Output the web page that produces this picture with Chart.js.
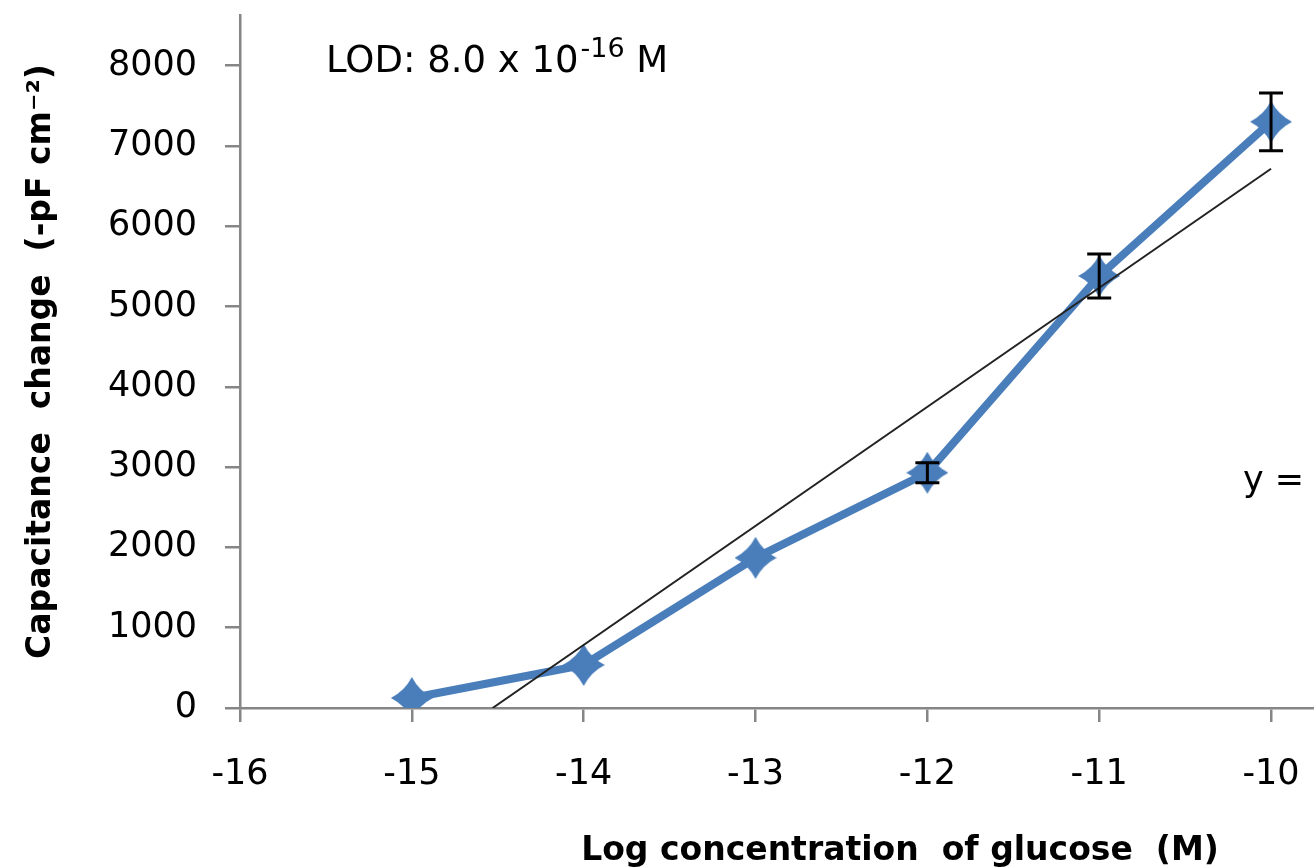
<!DOCTYPE html>
<html>
<head>
<meta charset="utf-8">
<script src="https://cdn.jsdelivr.net/npm/chart.js@4/dist/chart.umd.min.js"></script>
<style>
  html, body { margin: 0; padding: 0; background: #fff; overflow: hidden; }
  #wrap { width: 1314px; height: 868px; position: relative; }
</style>
</head>
<body>
<div id="wrap"><canvas id="chart"></canvas></div>
<script>
// data
const logConc = [-15, -14, -13, -12, -11, -10]
const capChange = [125, 536, 1870, 2930, 5380, 7300]
const capError = [0, 0, 0, 125, 275, 360]
const trendX = [-14.53, -10]
const trendY = [0, 6715]
const xTicks = [-16, -15, -14, -13, -12, -11, -10]
const yTicks = [0, 1000, 2000, 3000, 4000, 5000, 6000, 7000, 8000]

const BLUE = '#4a7ebb'
const AXIS = '#868686'
const FONT = "'DejaVu Sans', sans-serif"

// four-pointed star marker
function starMarker(size, color) {
  let c = document.createElement('canvas')
  c.width = size
  c.height = size
  let g = c.getContext('2d')
  let m = size / 2, r = size / 2, k = r * 0.34
  g.fillStyle = color
  g.beginPath()
  g.moveTo(m, m - r)
  g.quadraticCurveTo(m + k, m - k, m + r, m)
  g.quadraticCurveTo(m + k, m + k, m, m + r)
  g.quadraticCurveTo(m - k, m + k, m - r, m)
  g.quadraticCurveTo(m - k, m - k, m, m - r)
  g.closePath()
  g.fill()
  g.beginPath()
  g.arc(m, m, r * 0.48, 0, Math.PI * 2)
  g.fill()
  return c
}
const marker = starMarker(42, BLUE)

// fixed axis box, no extra room for edge labels
function fixBox(size, horizontal) {
  return s => {
    if (horizontal) s.height = size
    else s.width = size
    s.paddingTop = 0
    s.paddingBottom = 0
    s.paddingLeft = 0
    s.paddingRight = 0
  }
}

// error bars on top of the series
const errorBars = {
  id: 'errorBars',
  afterDatasetsDraw(chart) {
    let ctx = chart.ctx
    let xs = chart.scales.x, ys = chart.scales.y
    ctx.save()
    ctx.strokeStyle = '#000'
    ctx.lineWidth = 3
    for (let i = 0; i < logConc.length; i++) {
      if (!capError[i]) continue
      let px = xs.getPixelForValue(logConc[i])
      let top = ys.getPixelForValue(capChange[i] + capError[i])
      let bot = ys.getPixelForValue(capChange[i] - capError[i])
      ctx.beginPath()
      ctx.moveTo(px, top); ctx.lineTo(px, bot)
      ctx.moveTo(px - 12, top); ctx.lineTo(px + 12, top)
      ctx.moveTo(px - 12, bot); ctx.lineTo(px + 12, bot)
      ctx.stroke()
    }
    ctx.restore()
  }
}

// free text: LOD note, cut-off equation, x title
const notes = {
  id: 'notes',
  afterDraw(chart) {
    let ctx = chart.ctx
    let area = chart.chartArea
    ctx.save()
    ctx.fillStyle = '#000'
    ctx.textBaseline = 'alphabetic'
    ctx.textAlign = 'left'

    ctx.font = '37px ' + FONT
    let lod = 'LOD: 8.0 x 10'
    let x0 = area.left + 86
    ctx.fillText(lod, x0, 72)
    let w = ctx.measureText(lod).width
    ctx.font = '27px ' + FONT
    ctx.fillText('-16', x0 + w + 2, 57)
    let w2 = ctx.measureText('-16').width
    ctx.font = '37px ' + FONT
    ctx.fillText(' M', x0 + w + w2 + 2, 72)

    ctx.font = '35px ' + FONT
    ctx.fillText('y =', 1243, 491)

    ctx.font = 'bold 33px ' + FONT
    ctx.textAlign = 'center'
    ctx.fillText('Log concentration  of glucose  (M)', area.left + 660, 860)
    ctx.restore()
  }
}

const bgWhite = {
  id: 'bgWhite',
  beforeDraw(chart) {
    let ctx = chart.ctx
    ctx.save()
    ctx.fillStyle = '#fff'
    ctx.fillRect(0, 0, chart.width, chart.height)
    ctx.restore()
  }
}

new Chart(document.querySelector('#chart'), {
  type: 'scatter',
  data: {
    datasets: [
      {
        label: 'trend',
        data: trendX.map((x, i) => ({ x: x, y: trendY[i] })),
        showLine: true,
        borderColor: '#222',
        borderWidth: 2,
        pointRadius: 0
      },
      {
        label: 'capacitance',
        data: logConc.map((x, i) => ({ x: x, y: capChange[i] })),
        showLine: true,
        borderColor: BLUE,
        borderWidth: 8,
        pointStyle: marker,
        pointRadius: 21,
        pointHoverRadius: 21
      }
    ]
  },
  options: {
    responsive: true,
    maintainAspectRatio: false,
    animation: false,
    events: [],
    layout: { autoPadding: false, padding: { top: 15, right: 0, left: 0, bottom: 0 } },
    plugins: { legend: { display: false }, tooltip: { enabled: false } },
    scales: {
      x: {
        type: 'linear',
        min: -16,
        max: -9.75,
        afterBuildTicks: s => { s.ticks = xTicks.map(v => ({ value: v })) },
        afterFit: fixBox(160, true),
        grid: { drawOnChartArea: false, drawTicks: true, tickLength: 14, color: AXIS, lineWidth: 2.5 },
        border: { color: AXIS, width: 2.5 },
        ticks: { color: '#000', padding: 32, font: { family: FONT, size: 35 }, callback: v => String(v) }
      },
      y: {
        min: 0,
        max: 8630,
        afterBuildTicks: s => { s.ticks = yTicks.map(v => ({ value: v })) },
        afterFit: fixBox(240, false),
        grid: { drawOnChartArea: false, drawTicks: true, tickLength: 15, color: AXIS, lineWidth: 2.5 },
        border: { color: AXIS, width: 2.5 },
        ticks: { color: '#000', padding: 28, font: { family: FONT, size: 35 }, callback: v => String(v) },
        title: {
          display: true,
          text: 'Capacitance  change  (-pF cm⁻²)',
          color: '#000',
          font: { family: FONT, size: 33, weight: 'bold' },
          padding: { top: 22, bottom: 0 }
        }
      }
    }
  },
  plugins: [bgWhite, errorBars, notes]
})
</script>
</body>
</html>
